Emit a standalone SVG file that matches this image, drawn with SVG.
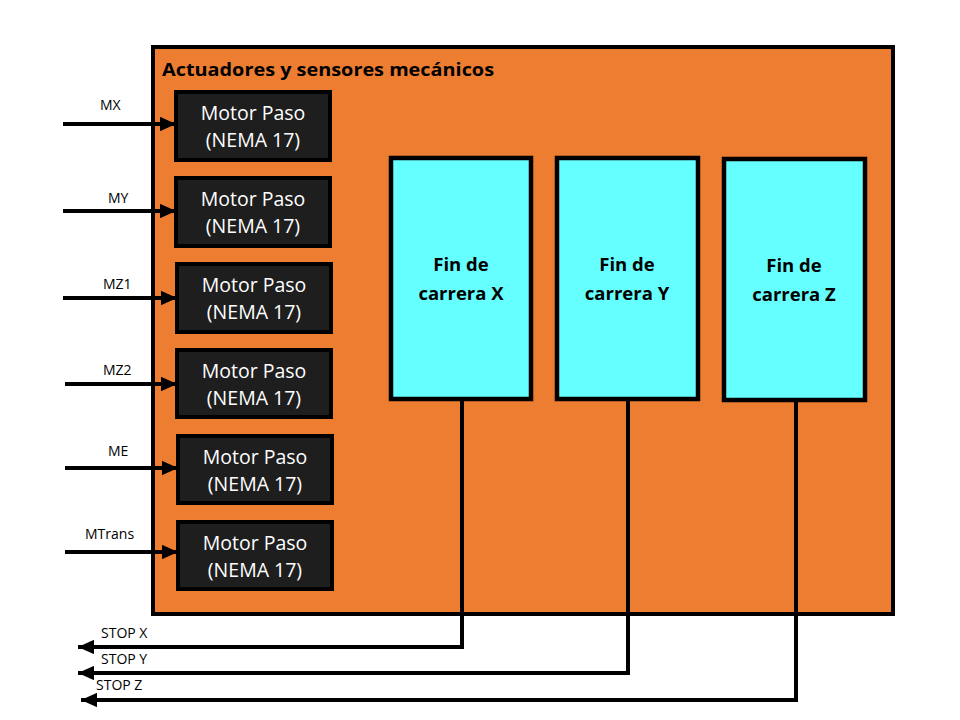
<svg xmlns="http://www.w3.org/2000/svg" width="960" height="720" viewBox="0 0 960 720">
<style>
.lbl{font-family:"Open Sans","Liberation Sans",sans-serif;font-size:14px;fill:#000}
.mot rect{fill:#1e1e1e;stroke:#000;stroke-width:4}
.mot text{font-family:"Open Sans","Liberation Sans",sans-serif;font-size:19.5px;fill:#fff;text-anchor:middle}
.fin rect{fill:#66ffff;stroke:#000;stroke-width:4.5}
.fin text{font-family:"Open Sans","Liberation Sans",sans-serif;font-size:18.5px;font-weight:bold;fill:#000;text-anchor:middle}
.wire{fill:none;stroke:#000;stroke-width:4}
</style>
<defs>
<marker id="ah" viewBox="0 0 10 10" refX="10" refY="5" markerWidth="4" markerHeight="3.6" orient="auto" markerUnits="strokeWidth" preserveAspectRatio="none">
<path d="M0,0 L10,5 L0,10 z" fill="#000"/>
</marker>
</defs>
<rect width="960" height="720" fill="#fff"/>
<g id="container">
<rect x="153" y="47" width="740" height="567" fill="#ed7d31" stroke="#000" stroke-width="4"/>
<text x="162" y="76" font-family="Open Sans, Liberation Sans, sans-serif" font-size="17" font-weight="bold" fill="#000" textLength="332" lengthAdjust="spacingAndGlyphs">Actuadores y sensores mecánicos</text>
</g>
<g id="mx" class="mot"><rect x="176" y="92" width="154" height="68"/><text x="253" y="120">Motor Paso</text><text x="253" y="147">(NEMA 17)</text></g>
<g id="my" class="mot"><rect x="176" y="178" width="154" height="68"/><text x="253" y="206">Motor Paso</text><text x="253" y="233">(NEMA 17)</text></g>
<g id="mz1" class="mot"><rect x="177" y="264" width="154" height="68"/><text x="254" y="292">Motor Paso</text><text x="254" y="319">(NEMA 17)</text></g>
<g id="mz2" class="mot"><rect x="177" y="350" width="154" height="67"/><text x="254" y="378">Motor Paso</text><text x="254" y="405">(NEMA 17)</text></g>
<g id="me" class="mot"><rect x="178" y="436" width="154" height="67"/><text x="255" y="464">Motor Paso</text><text x="255" y="491">(NEMA 17)</text></g>
<g id="mtrans" class="mot"><rect x="178" y="522" width="154" height="67"/><text x="255" y="550">Motor Paso</text><text x="255" y="577">(NEMA 17)</text></g>
<g id="finx" class="fin"><rect x="391" y="158" width="140" height="241"/><text x="461" y="271">Fin de</text><text x="461" y="300">carrera X</text></g>
<g id="finy" class="fin"><rect x="557" y="158" width="141" height="241"/><text x="627" y="271">Fin de</text><text x="627" y="300">carrera Y</text></g>
<g id="finz" class="fin"><rect x="724" y="159" width="141" height="241"/><text x="794" y="272">Fin de</text><text x="794" y="301">carrera Z</text></g>
<g id="connectors">
<line class="wire" x1="63" y1="124" x2="176" y2="124" marker-end="url(#ah)"/>
<line class="wire" x1="63" y1="211" x2="176" y2="211" marker-end="url(#ah)"/>
<line class="wire" x1="63" y1="298" x2="177" y2="298" marker-end="url(#ah)"/>
<line class="wire" x1="65" y1="384" x2="177" y2="384" marker-end="url(#ah)"/>
<line class="wire" x1="65" y1="468" x2="178" y2="468" marker-end="url(#ah)"/>
<line class="wire" x1="65" y1="552" x2="178" y2="552" marker-end="url(#ah)"/>
<polyline class="wire" points="462,399 462,647 78,647" marker-end="url(#ah)"/>
<polyline class="wire" points="628,399 628,673 78,673" marker-end="url(#ah)"/>
<polyline class="wire" points="796,400 796,700 81,700" marker-end="url(#ah)"/>
<text class="lbl" x="100" y="110">MX</text>
<text class="lbl" x="108" y="203">MY</text>
<text class="lbl" x="103" y="289">MZ1</text>
<text class="lbl" x="103" y="375">MZ2</text>
<text class="lbl" x="108" y="456">ME</text>
<text class="lbl" x="85" y="539">MTrans</text>
<text class="lbl" x="101" y="638">STOP X</text>
<text class="lbl" x="101" y="664">STOP Y</text>
<text class="lbl" x="96" y="690">STOP Z</text>
</g>
</svg>
